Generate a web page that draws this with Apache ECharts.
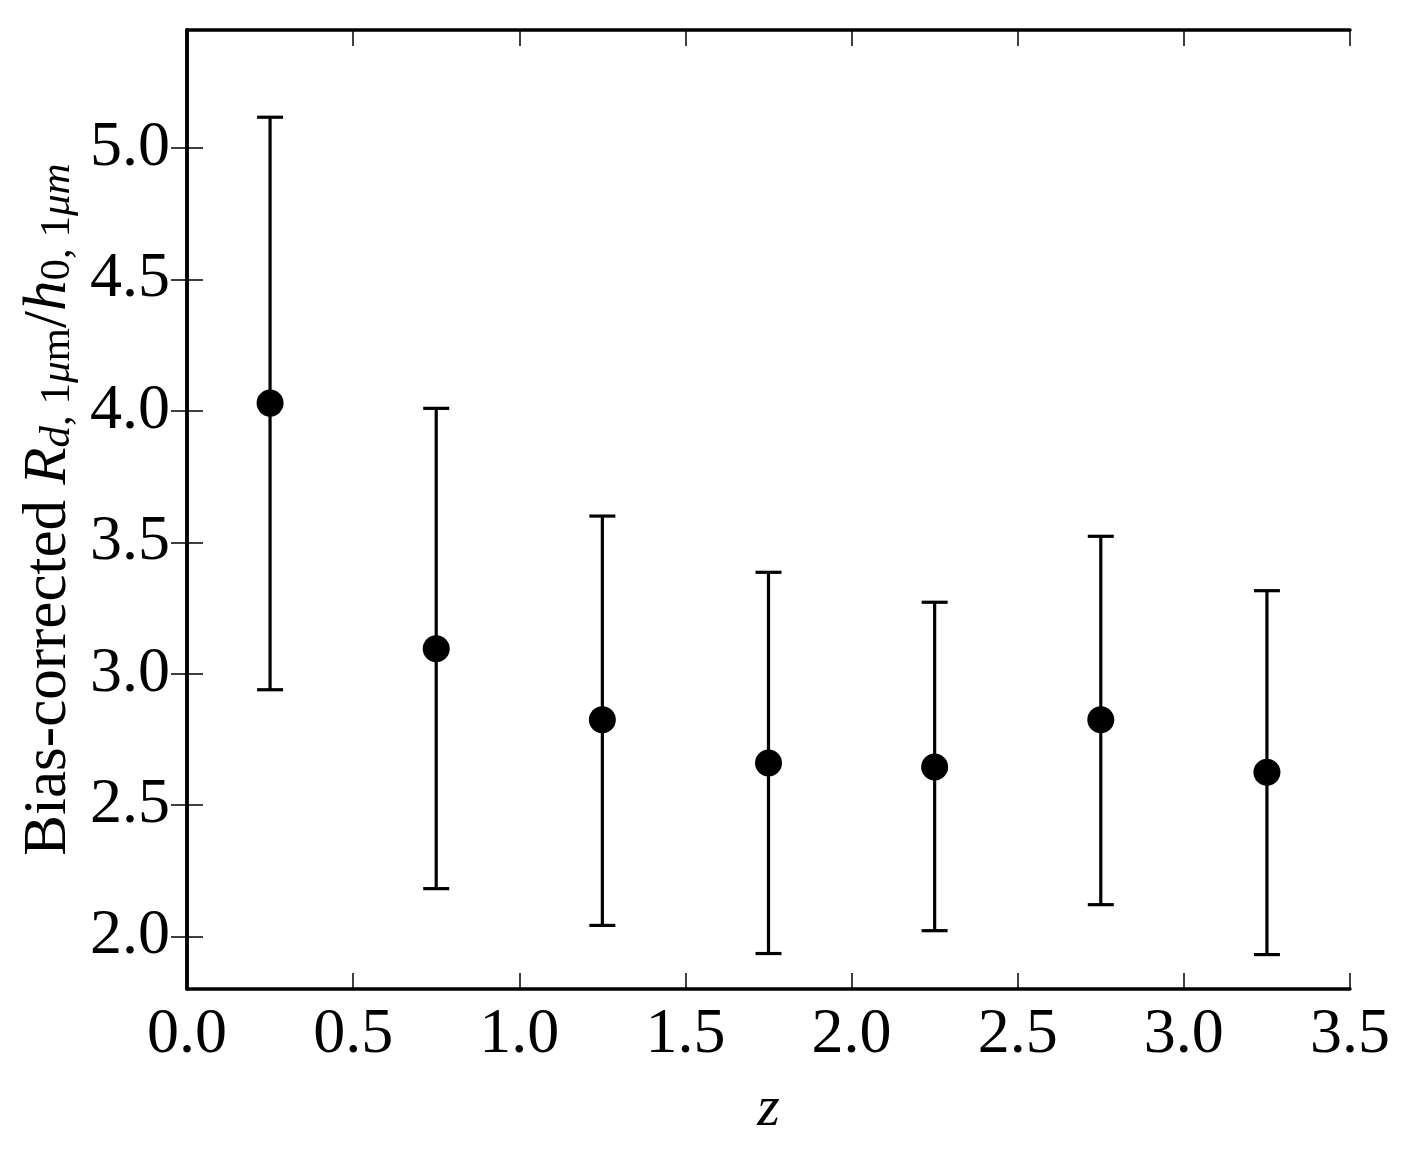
<!DOCTYPE html>
<html>
<head>
<meta charset="utf-8">
<script src="https://cdn.jsdelivr.net/npm/echarts@6/dist/echarts.min.js"></script>
<style>
  html, body { margin: 0; padding: 0; background: #fff; }
  #chart { width: 1421px; height: 1171px; }
</style>
</head>
<body>
<div id="chart"></div>
<script>
var zBins = [0.25, 0.75, 1.25, 1.75, 2.25, 2.75, 3.25]
var ratio = [4.03, 3.095, 2.825, 2.66, 2.645, 2.825, 2.625]
var errHigh = [5.118, 4.01, 3.60, 3.386, 3.272, 3.523, 3.316]
var errLow = [2.939, 2.182, 2.042, 1.935, 2.022, 2.121, 1.931]
var yTicks = [2.0, 2.5, 3.0, 3.5, 4.0, 4.5, 5.0]

var serif = 'Liberation Serif'

var points = zBins.map(function (z, i) { return [z, ratio[i]] })
var bars = zBins.map(function (z, i) { return [z, errLow[i], errHigh[i]] })

function renderErrorBar (params, api) {
  var lo = api.coord([api.value(0), api.value(1)])
  var hi = api.coord([api.value(0), api.value(2)])
  var cap = 13
  var style = { stroke: '#000', lineWidth: 3.2 }
  return {
    type: 'group',
    children: [
      { type: 'line', shape: { x1: lo[0], y1: lo[1], x2: hi[0], y2: hi[1] }, style: style },
      { type: 'line', shape: { x1: lo[0] - cap, y1: lo[1], x2: lo[0] + cap, y2: lo[1] }, style: style },
      { type: 'line', shape: { x1: hi[0] - cap, y1: hi[1], x2: hi[0] + cap, y2: hi[1] }, style: style }
    ]
  }
}

var frameLine = { show: true, lineStyle: { color: '#000', width: 3.5 } }
function inTick (extra) {
  return Object.assign({ show: true, inside: true, length: 16, lineStyle: { color: '#000', width: 1.5 } }, extra || {})
}

var chart = echarts.init(document.getElementById('chart'))
chart.setOption({
  backgroundColor: '#fff',
  animation: false,
  grid: { left: 187, right: 71, top: 30, bottom: 182, containLabel: false, outerBoundsMode: 'none' },
  xAxis: [
    {
      type: 'value', min: 0, max: 3.5, interval: 0.5, position: 'bottom',
      axisLine: frameLine, axisTick: inTick(), splitLine: { show: false },
      axisLabel: {
        color: '#000', fontFamily: serif, fontSize: 64, margin: 14,
        formatter: function (v) { return v.toFixed(1) }
      },
      name: 'z', nameLocation: 'middle', nameGap: 92,
      nameTextStyle: { color: '#000', fontFamily: serif, fontSize: 58, fontStyle: 'italic' }
    },
    {
      type: 'value', min: 0, max: 3.5, interval: 0.5, position: 'top',
      axisLine: frameLine, axisTick: inTick(), splitLine: { show: false },
      axisLabel: { show: false }
    }
  ],
  yAxis: [
    {
      type: 'value', min: 1.8, max: 5.45, position: 'left',
      axisLine: frameLine, splitLine: { show: false },
      axisTick: inTick({ customValues: yTicks }),
      axisLabel: {
        color: '#000', fontFamily: serif, fontSize: 64, margin: 17,
        customValues: yTicks,
        formatter: function (v) { return v.toFixed(1) }
      },
      name: '{t|Bias-corrected }{i|R}{si|d}{s|, 1}{si|μ}{s|m}{t|/}{i|h}{s|0, 1}{si|μm}',
      nameLocation: 'middle', nameGap: 108, nameRotate: 90,
      nameTextStyle: {
        color: '#000', fontFamily: serif, fontSize: 61,
        rich: {
          t: { fontFamily: serif, fontSize: 61, color: '#000' },
          i: { fontFamily: serif, fontSize: 61, fontStyle: 'italic', color: '#000' },
          s: { fontFamily: serif, fontSize: 43, color: '#000', verticalAlign: 'bottom', padding: [18, 0, 0, 0] },
          si: { fontFamily: serif, fontSize: 43, fontStyle: 'italic', color: '#000', verticalAlign: 'bottom', padding: [18, 0, 0, 0] }
        }
      }
    },
    {
      type: 'value', min: 1.8, max: 5.45, position: 'right',
      axisLine: frameLine, splitLine: { show: false },
      axisTick: inTick({ customValues: yTicks }),
      axisLabel: { show: false }
    }
  ],
  series: [
    {
      type: 'custom',
      renderItem: renderErrorBar,
      encode: { x: 0, y: [1, 2] },
      data: bars,
      z: 2
    },
    {
      type: 'scatter',
      data: points,
      symbol: 'circle',
      symbolSize: 27,
      itemStyle: { color: '#000', opacity: 1 },
      z: 3
    }
  ]
})
</script>
</body>
</html>
